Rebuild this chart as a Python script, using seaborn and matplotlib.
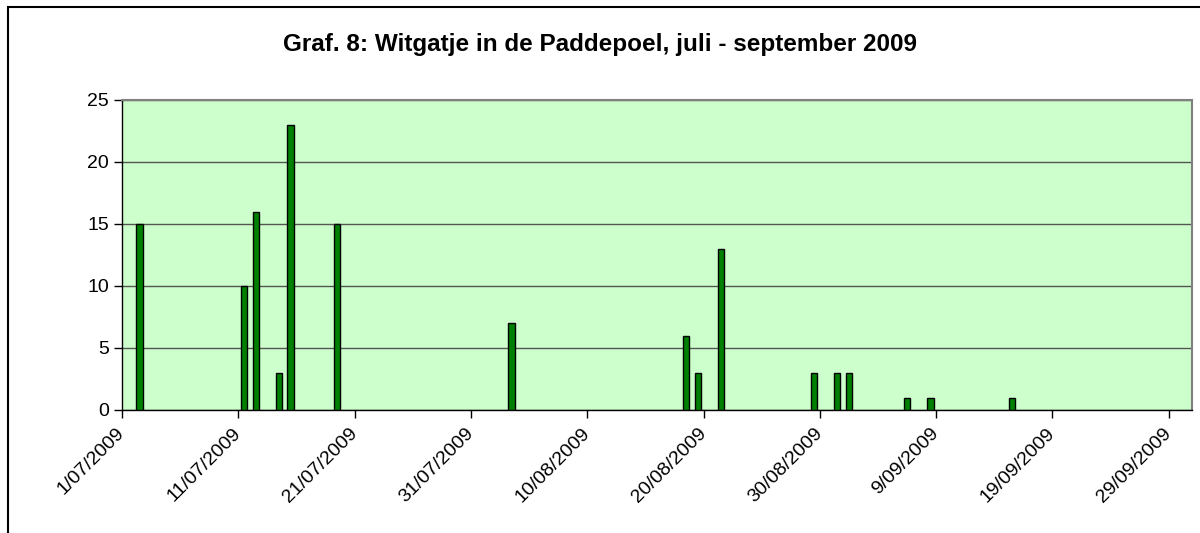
import pandas as pd
import matplotlib
matplotlib.use("Agg")
import matplotlib.pyplot as plt
import matplotlib.patches as patches
import seaborn as sns

# waarnemingen (datum, aantal)
datums = [
    "2009-07-02", "2009-07-11", "2009-07-12", "2009-07-14", "2009-07-15",
    "2009-07-19", "2009-08-03", "2009-08-18", "2009-08-19", "2009-08-21",
    "2009-08-29", "2009-08-31", "2009-09-01", "2009-09-06", "2009-09-08",
    "2009-09-15",
]
aantallen = [15, 10, 16, 3, 23, 15, 7, 6, 3, 13, 3, 3, 3, 1, 1, 1]

start = "2009-07-01"
einde = "2009-10-01"
titel = "Graf. 8: Witgatje in de Paddepoel, juli - september 2009"

dagen = pd.date_range(start, einde, freq="D", inclusive="left")
df = pd.DataFrame({"datum": pd.to_datetime(datums), "aantal": aantallen})
df["dag"] = (df["datum"] - pd.Timestamp(start)).dt.days
volgorde = list(range(len(dagen)))

sns.set_style("white")
plt.rcParams["font.family"] = ["Liberation Sans", "DejaVu Sans"]
plt.rcParams["text.color"] = "black"
plt.rcParams["xtick.color"] = "black"
plt.rcParams["ytick.color"] = "black"

fig = plt.figure(figsize=(12, 5.33), dpi=100)
ax = fig.add_axes([122 / 1200, 1 - 410 / 533, (1192 - 122) / 1200, 310 / 533])
ax.set_facecolor("#CCFFCC")

sns.barplot(
    data=df,
    x="dag",
    y="aantal",
    order=volgorde,
    color="#008000",
    saturation=1,
    width=0.55,
    edgecolor="black",
    linewidth=1,
    ax=ax,
    zorder=3,
)

ax.set_xlim(-0.5, len(dagen) - 0.5)
ax.set_ylim(0, 25)
ax.set_yticks(range(0, 26, 5))
ax.yaxis.grid(True, color="#555555", linewidth=1, zorder=0)
ax.set_axisbelow(True)

tick_idx = list(range(0, len(dagen), 10))
ax.set_xticks([i - 0.5 for i in tick_idx])
ax.set_xticklabels(
    [f"{dagen[i].day}/{dagen[i].month:02d}/{dagen[i].year}" for i in tick_idx],
    rotation=45,
    ha="right",
    va="center",
    rotation_mode="anchor",
)
ax.tick_params(axis="both", direction="out", length=6, width=1, color="black",
               labelcolor="black", labelsize=14, bottom=True, left=True)
ax.tick_params(axis="x", pad=9)
ax.set_xlabel("")
ax.set_ylabel("")

for kant in ["left", "bottom"]:
    ax.spines[kant].set_color("black")
    ax.spines[kant].set_linewidth(1)
for kant in ["top", "right"]:
    ax.spines[kant].set_color("#808080")
    ax.spines[kant].set_linewidth(1.5)

fig.text(0.5, 1 - 45 / 533, titel, ha="center", va="center",
         fontsize=17.5, fontweight="bold", color="black")

# kader om de grafiek
kader = patches.Rectangle((8 / 1200, -0.5), 2, 0.5 + 1 - 7 / 533,
                          transform=fig.transFigure, fill=False,
                          edgecolor="black", linewidth=1.5)
fig.patches.append(kader)

fig.savefig("out.png", dpi=100)
